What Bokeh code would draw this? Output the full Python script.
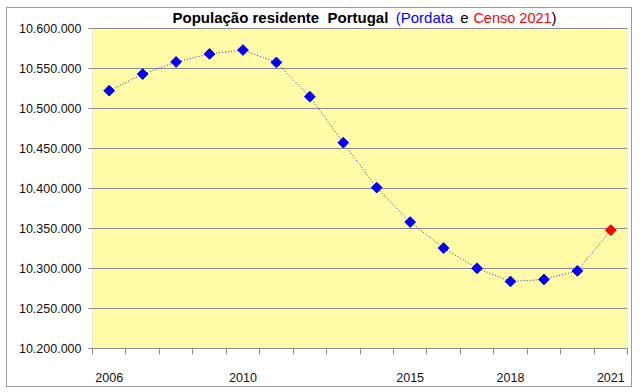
import math
from bokeh.plotting import figure
from bokeh.models import FixedTicker, Label, BoxAnnotation
from bokeh.embed import file_html
from bokeh.resources import INLINE

# ---- data ----
years = [2006, 2007, 2008, 2009, 2010, 2011, 2012, 2013, 2014, 2015, 2016, 2017, 2018, 2019, 2020]
pordata = [10522300, 10543000, 10558200, 10568200, 10573100, 10557600, 10514800, 10457300,
           10401100, 10358100, 10325500, 10300300, 10283800, 10286300, 10297000]
censo_year = [2021]
censo = [10347900]
x_tick_years = [2006, 2010, 2015, 2018, 2021]
y_ticks = [10200000, 10250000, 10300000, 10350000, 10400000, 10450000, 10500000, 10550000, 10600000]

FONT = "Liberation Sans"
GRID = "#8a8a8a"

all_years = years + censo_year
x_lo, x_hi = all_years[0] - 0.5, all_years[-1] + 0.5
# frame extends above the top tick to hold the title (20 px at 1250 units/px)
y_top_extra = 25000

p = figure(width=626, height=380, output_backend="svg", toolbar_location=None,
           x_range=(x_lo, x_hi),
           y_range=(y_ticks[0], y_ticks[-1] + y_top_extra),
           min_border_left=85, min_border_right=6, min_border_top=0, min_border_bottom=40)
p.styles = {"border": "1px solid #9a9a9a", "margin-left": "6px", "margin-top": "7px"}
p.background_fill_color = "white"
p.border_fill_color = "white"
p.outline_line_color = None

# plot area (yellow) with grey border, drawn below the grid
p.add_layout(BoxAnnotation(left=x_lo, right=x_hi, bottom=y_ticks[0], top=y_ticks[-1],
                           fill_color="#FFFBA6", fill_alpha=1.0,
                           line_color=GRID, line_width=1, level="image"))

# x axis
xt = FixedTicker(ticks=x_tick_years, minor_ticks=[y - 0.5 for y in all_years] + [x_hi])
p.xaxis.ticker = xt
p.xaxis.major_label_overrides = {y: str(y) for y in x_tick_years}
p.xaxis.major_tick_out = 0
p.xaxis.major_tick_in = 0
p.xaxis.minor_tick_out = 6
p.xaxis.minor_tick_in = 0
p.xaxis.minor_tick_line_color = GRID
p.xaxis.axis_line_color = GRID
p.xaxis.major_label_standoff = 18
p.xaxis.major_label_text_font = FONT
p.xaxis.major_label_text_font_size = "12.5px"
p.xaxis.major_label_text_color = "#111111"
p.xgrid.grid_line_color = None

# y axis
yt = FixedTicker(ticks=y_ticks, minor_ticks=[])
p.yaxis.ticker = yt
p.yaxis.major_label_overrides = {v: f"{v:,}".replace(",", ".") for v in y_ticks}
p.yaxis.major_tick_out = 4
p.yaxis.major_tick_in = 0
p.yaxis.major_tick_line_color = GRID
p.yaxis.minor_tick_line_color = None
p.yaxis.axis_line_color = None
p.yaxis.major_label_standoff = 7
p.yaxis.major_label_text_font = FONT
p.yaxis.major_label_text_font_size = "12.5px"
p.yaxis.major_label_text_color = "#111111"
p.ygrid.ticker = yt
p.ygrid.grid_line_color = GRID
p.ygrid.grid_line_alpha = 1.0

# line (dotted) through all points
p.line(all_years, pordata + censo, line_color="#2b2bd0", line_width=1, line_dash="1 2")

# markers
p.scatter(years, pordata, marker="square", angle=math.pi / 4, size=7.6,
          fill_color="#0000FF", line_color="#0000E0")
p.scatter(censo_year, censo, marker="square", angle=math.pi / 4, size=7.6,
          fill_color="#FF0000", line_color="#E00000")

# title pieces: (text, x offset from plot-area left, align, size, style, colour)
pieces = [
    ("População residente\u00a0 Portugal", 80, "left", "15px", "bold", "#000000"),
    ("(Pordata", 332, "center", "15px", "normal", "#0000FF"),
    ("e", 372, "center", "15px", "normal", "#000000"),
    ("Censo 2021", 420, "center", "14.5px", "normal", "#FF0000"),
    (")", 459, "left", "15px", "normal", "#000000"),
]
for txt, off, align, size, style, col in pieces:
    p.add_layout(Label(x=x_lo, y=y_ticks[-1], x_offset=off, y_offset=11, text=txt,
                       text_font=FONT, text_font_size=size, text_font_style=style,
                       text_color=col, text_baseline="middle", text_align=align))

open("out.html", "w").write(file_html(p, INLINE))
